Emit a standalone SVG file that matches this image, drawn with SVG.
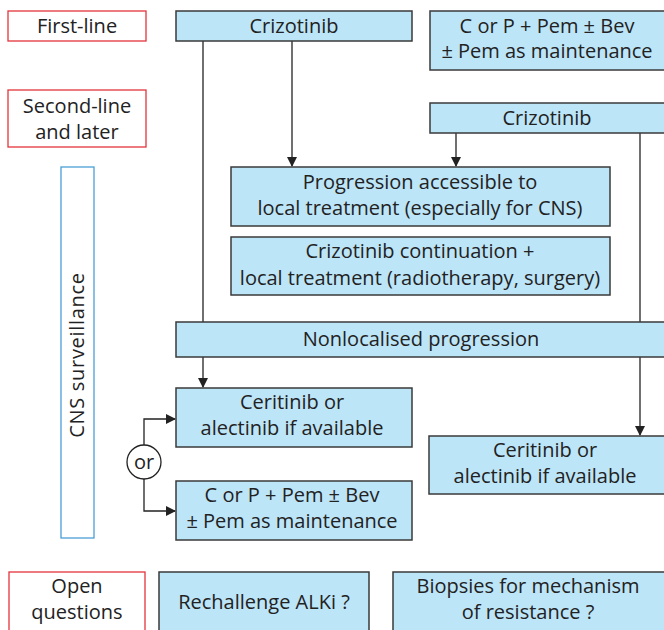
<svg xmlns="http://www.w3.org/2000/svg" width="664" height="630" viewBox="0 0 664 630">
<defs>
<marker id="ah" markerWidth="10" markerHeight="10" refX="9" refY="5" orient="auto" markerUnits="userSpaceOnUse">
<path d="M0,0 L10,5 L0,10 Z" fill="#222"/>
</marker>
</defs>
<style>
.n{fill:#bde5f8;stroke:#3a3a3a;stroke-width:1.5}
.r{fill:#fff;stroke:#e2343a;stroke-width:1.3}
.b{fill:#fff;stroke:#4a9fd4;stroke-width:1.3}
text{font-family:"Open Sans","Liberation Sans",sans-serif;font-size:20px;fill:#222;text-anchor:middle}
.cns{font-size:20px;letter-spacing:0.7px}
.c line,.c path{stroke:#222;stroke-width:1.3;fill:none}
</style>
<rect width="664" height="630" fill="#fff"/>
<g class="c" id="connectors">
<line x1="203" y1="41" x2="203" y2="322"/>
<line x1="203" y1="357" x2="203" y2="387" marker-end="url(#ah)"/>
<line x1="292" y1="41" x2="292" y2="166" marker-end="url(#ah)"/>
<line x1="456" y1="133" x2="456" y2="166" marker-end="url(#ah)"/>
<line x1="640" y1="133" x2="640" y2="322"/>
<line x1="640" y1="357" x2="640" y2="435" marker-end="url(#ah)"/>
<path d="M144,445 L144,419 L175,419" marker-end="url(#ah)"/>
<path d="M144,479 L144,511 L175,511" marker-end="url(#ah)"/>
</g>
<g id="lbl-first"><rect class="r" x="8" y="11" width="138" height="30"/><text x="77" y="33">First-line</text></g>
<g id="lbl-second"><rect class="r" x="8" y="90" width="138" height="57"/><text x="77" y="113">Second-line</text><text x="77" y="139">and later</text></g>
<g id="lbl-cns"><rect class="b" x="61" y="167" width="33" height="371"/><text class="cns" transform="translate(84,355) rotate(-90)">CNS surveillance</text></g>
<g id="lbl-open"><rect class="r" x="9" y="572" width="136" height="62"/><text x="77" y="593">Open</text><text x="77" y="619">questions</text></g>
<g id="n-criz1"><rect class="n" x="176" y="11" width="236" height="30"/><text x="294" y="33">Crizotinib</text></g>
<g id="n-chemo1"><rect class="n" x="430" y="11" width="240" height="59"/><text x="547" y="33">C or P + Pem ± Bev</text><text x="547" y="58">± Pem as maintenance</text></g>
<g id="n-criz2"><rect class="n" x="430" y="103" width="240" height="30"/><text x="547" y="125">Crizotinib</text></g>
<g id="n-prog"><rect class="n" x="231" y="167" width="379" height="59"/><text x="420" y="189">Progression accessible to</text><text x="420" y="215">local treatment (especially for CNS)</text></g>
<g id="n-cont"><rect class="n" x="231" y="237" width="379" height="58"/><text x="420" y="258">Crizotinib continuation +</text><text x="420" y="285">local treatment (radiotherapy, surgery)</text></g>
<g id="n-nonloc"><rect class="n" x="176" y="322" width="494" height="35"/><text x="421" y="346">Nonlocalised progression</text></g>
<g id="n-cer1"><rect class="n" x="176" y="388" width="236" height="59"/><text x="292" y="409">Ceritinib or</text><text x="292" y="435">alectinib if available</text></g>
<g id="n-or"><ellipse cx="144" cy="462" rx="17" ry="17" fill="#fff" stroke="#222" stroke-width="1.3"/><text x="144" y="469">or</text></g>
<g id="n-chemo2"><rect class="n" x="176" y="481" width="236" height="59"/><text x="292" y="502">C or P + Pem ± Bev</text><text x="292" y="528">± Pem as maintenance</text></g>
<g id="n-cer2"><rect class="n" x="429" y="436" width="241" height="58"/><text x="545" y="457">Ceritinib or</text><text x="545" y="483">alectinib if available</text></g>
<g id="n-rechal"><rect class="n" x="159" y="572" width="210" height="62"/><text x="264" y="609">Rechallenge ALKi ?</text></g>
<g id="n-biop"><rect class="n" x="393" y="572" width="277" height="62"/><text x="528" y="593">Biopsies for mechanism</text><text x="528" y="619">of resistance ?</text></g>
</svg>
